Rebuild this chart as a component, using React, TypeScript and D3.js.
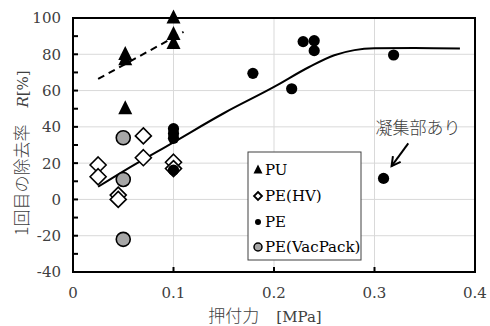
import React from "react";
import * as d3 from "d3";

const W = 490, H = 326;
const M = { left: 73, right: 15, top: 18, bottom: 54 };

const xTicks = [0, 0.1, 0.2, 0.3, 0.4];
const yTicks = [-40, -20, 0, 20, 40, 60, 80, 100];
const yMinorTicks = [-30, -10, 10, 30, 50, 70, 90];

const puData: [number, number][] = [
  [0.052, 80], [0.052, 77], [0.052, 50], [0.1, 100], [0.1, 91], [0.1, 86],
];
const peHVData: [number, number][] = [
  [0.025, 19], [0.025, 12.5], [0.045, 2.4], [0.045, 0], [0.07, 35], [0.07, 23], [0.1, 20.5], [0.1, 17],
];
const peData: [number, number][] = [
  [0.1, 39], [0.1, 36.4], [0.1, 33.7], [0.1, 16.2], [0.179, 69.5], [0.2176, 61],
  [0.229, 87], [0.24, 87.5], [0.24, 82], [0.319, 79.6], [0.309, 11.6],
];
const vacData: [number, number][] = [
  [0.05, 34], [0.05, 11], [0.05, -22],
];
const puTrend: [number, number][] = [[0.025, 66.4], [0.11, 92.3]];
const peTrend: [number, number][] = [
  [0.025, 7], [0.05, 15.5], [0.1, 31.5], [0.15, 47.5], [0.2, 62], [0.235, 73],
  [0.26, 79.5], [0.28, 82.3], [0.3, 83.3], [0.34, 83.5], [0.385, 83.2],
];
const legendLabels = ["PU", "PE(HV)", "PE", "PE(VacPack)"];
const annotationText = "凝集部あり";
const arrowTail: [number, number] = [0.3336, 30.9];
const arrowTip: [number, number] = [0.317, 18.4];

const serif = "DejaVu Serif, serif";
const cjk = "Noto Sans CJK JP, sans-serif";

export default function App() {
  const x = d3.scaleLinear().domain([0, 0.4]).range([M.left, W - M.right]);
  const y = d3.scaleLinear().domain([-40, 100]).range([H - M.bottom, M.top]);
  const x0 = x(0), x1 = x(0.4), y0 = y(-40), y1 = y(100);

  const line = d3.line<[number, number]>().x(d => x(d[0])).y(d => y(d[1]));
  const curve = d3.line<[number, number]>().x(d => x(d[0])).y(d => y(d[1])).curve(d3.curveMonotoneX);

  const tri = (cx: number, cy: number, s: number) =>
    `M${cx},${cy - s * 0.6}L${cx + s * 0.5},${cy + s * 0.4}L${cx - s * 0.5},${cy + s * 0.4}Z`;
  const dia = (cx: number, cy: number, r: number) =>
    `M${cx},${cy - r}L${cx + r},${cy}L${cx},${cy + r}L${cx - r},${cy}Z`;

  const tx = x(arrowTip[0]), ty = y(arrowTip[1]);
  const sx = x(arrowTail[0]), sy = y(arrowTail[1]);
  const ang = Math.atan2(ty - sy, tx - sx);
  const hl = 10;
  const a1 = [tx - hl * Math.cos(ang - 0.5), ty - hl * Math.sin(ang - 0.5)];
  const a2 = [tx - hl * Math.cos(ang + 0.5), ty - hl * Math.sin(ang + 0.5)];

  const lgX = 248, lgY = 152, lgW = 113, lgH = 108;
  const lgRows = [170, 196, 222, 247];
  const serifStyle = { fontFamily: serif };
  const cjkStyle = { fontFamily: cjk, fontWeight: 300 };

  return (
    <svg width={W} height={H} style={{ position: "absolute", left: 0, top: 0, background: "#fff" }}>
      {xTicks.slice(1, -1).map(t => (
        <line key={"gx" + t} x1={x(t)} x2={x(t)} y1={y1} y2={y0} stroke="#d9d9d9" strokeWidth={1} />
      ))}
      {yTicks.slice(1, -1).map(t => (
        <line key={"gy" + t} x1={x0} x2={x1} y1={y(t)} y2={y(t)} stroke="#d9d9d9" strokeWidth={1} />
      ))}
      {[...yTicks, ...yMinorTicks].map(t => (
        <line key={"ty" + t} x1={x0} x2={x0 + 5} y1={y(t)} y2={y(t)} stroke="#000" strokeWidth={2} />
      ))}
      {xTicks.map(t => (
        <line key={"tx" + t} x1={x(t)} x2={x(t)} y1={y0} y2={y0 - 5} stroke="#000" strokeWidth={2} />
      ))}
      {yTicks.map(t => (
        <text key={"ly" + t} x={x0 - 12} y={y(t)} dy="0.36em" textAnchor="end" style={serifStyle} fontSize={15} fill="#404040">{t}</text>
      ))}
      {xTicks.map(t => (
        <text key={"lx" + t} x={x(t)} y={y0 + 26} textAnchor="middle" style={serifStyle} fontSize={15} fill="#404040">{t === 0 ? "0" : String(t)}</text>
      ))}
      <path d={line(puTrend) || ""} fill="none" stroke="#000" strokeWidth={2} strokeDasharray="7,5" />
      <path d={curve(peTrend) || ""} fill="none" stroke="#000" strokeWidth={2} />
      {peHVData.map((d, i) => (
        <path key={"hv" + i} d={dia(x(d[0]), y(d[1]), 8)} fill="#fff" stroke="#000" strokeWidth={1.6} />
      ))}
      {vacData.map((d, i) => (
        <circle key={"vp" + i} cx={x(d[0])} cy={y(d[1])} r={7} fill="#a6a6a6" stroke="#000" strokeWidth={1.6} />
      ))}
      {peData.map((d, i) => (
        <circle key={"pe" + i} cx={x(d[0])} cy={y(d[1])} r={5.6} fill="#000" />
      ))}
      {puData.map((d, i) => (
        <path key={"pu" + i} d={tri(x(d[0]), y(d[1]), 14)} fill="#000" />
      ))}
      <rect x={x0} y={y1} width={x1 - x0} height={y0 - y1} fill="none" stroke="#000" strokeWidth={2} />
      <rect x={lgX} y={lgY} width={lgW} height={lgH} fill="#fff" stroke="#404040" strokeWidth={1} />
      <path d={tri(258, lgRows[0], 9)} fill="#000" />
      <path d={dia(258, lgRows[1], 4)} fill="#fff" stroke="#000" strokeWidth={1.8} />
      <circle cx={258} cy={lgRows[2]} r={3} fill="#000" />
      <circle cx={258} cy={lgRows[3]} r={4} fill="#a6a6a6" stroke="#000" strokeWidth={1.5} />
      {legendLabels.map((l, i) => (
        <text key={l} x={265} y={lgRows[i]} dy="0.36em" style={serifStyle} fontSize={15} fill="#000">{l}</text>
      ))}
      <text x={418} y={128} dy="0.35em" textAnchor="middle" style={cjkStyle} fontSize={17} fill="#404040">{annotationText}</text>
      <line x1={sx} y1={sy} x2={tx} y2={ty} stroke="#000" strokeWidth={2} />
      <polyline points={`${a1[0]},${a1[1]} ${tx},${ty} ${a2[0]},${a2[1]}`} fill="none" stroke="#000" strokeWidth={2} />
      <text x={265} y={322} textAnchor="middle" fill="#404040">
        <tspan style={cjkStyle} fontSize={17}>押付力　</tspan>
        <tspan style={serifStyle} fontSize={15}>[MPa]</tspan>
      </text>
      <text transform={`translate(28,${153}) rotate(-90)`} textAnchor="middle" fill="#404040">
        <tspan style={cjkStyle} fontSize={17}>1回目の除去率　</tspan>
        <tspan style={serifStyle} fontSize={15} fontStyle="italic">R</tspan>
        <tspan style={serifStyle} fontSize={15}>[%]</tspan>
      </text>
    </svg>
  );
}
